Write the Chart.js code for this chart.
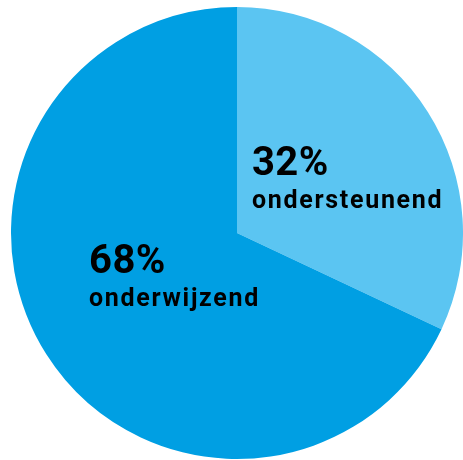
<!DOCTYPE html>
<html>
<head>
<meta charset="utf-8">
<script src="https://cdn.jsdelivr.net/npm/chart.js@4"></script>
<style>
  html, body { margin: 0; padding: 0; background: #fff; }
  #wrap { width: 463px; height: 460px; }
</style>
</head>
<body>
<div id="wrap"><canvas id="pie_chart"></canvas></div>
<script>
// data
const labels = ['ondersteunend', 'onderwijzend'];
const values = [32, 68];
const colors = ['#5BC5F2', '#009FE3'];

// text labels inside the slices, drawn relative to the pie centre
const sliceLabels = {
  id: 'sliceLabels',
  afterDatasetsDraw(chart) {
    const ctx = chart.ctx;
    const arc = chart.getDatasetMeta(0).data[0];
    const cx = arc.x, cy = arc.y, r = arc.outerRadius;
    // offsets as fraction of the radius (left edge of text, baseline of pct)
    const spots = [[0.066, -0.257], [-0.655, 0.177]];
    ctx.save();
    ctx.fillStyle = '#000';
    ctx.textAlign = 'left';
    ctx.textBaseline = 'alphabetic';
    values.forEach((v, i) => {
      const x = cx + spots[i][0] * r;
      const y = cy + spots[i][1] * r;
      ctx.letterSpacing = '0.5px';
      ctx.font = 'bold 40px Roboto';
      ctx.fillText(v + '%', x, y);
      ctx.letterSpacing = '1.7px';
      ctx.font = 'bold 25px Roboto';
      ctx.fillText(labels[i], x, y + 33);
    });
    ctx.restore();
  }
};

new Chart(document.getElementById('pie_chart'), {
  type: 'pie',
  data: {
    labels: labels,
    datasets: [{
      data: values,
      backgroundColor: colors,
      borderWidth: 0
    }]
  },
  options: {
    responsive: true,
    maintainAspectRatio: false,
    animation: false,
    layout: { padding: { left: 11, right: 0, top: 7, bottom: 1 } },
    plugins: {
      legend: { display: false },
      tooltip: { enabled: false }
    }
  },
  plugins: [sliceLabels]
});
</script>
</body>
</html>
